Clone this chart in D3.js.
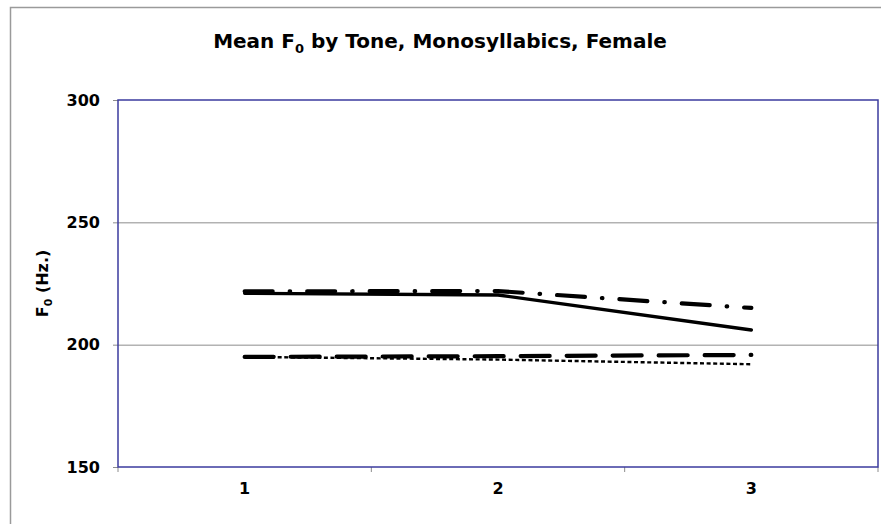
<!DOCTYPE html>
<html>
<head>
<meta charset="utf-8">
<script src="https://cdn.jsdelivr.net/npm/d3@7"></script>
<style>
  html, body { margin: 0; padding: 0; background: #fff; }
  svg { display: block; font-family: "DejaVu Sans", Verdana, sans-serif; }
</style>
</head>
<body>
<svg id="chart" width="881" height="524"></svg>
<script>
// Tones on the x axis
const tones = ["1", "2", "3"];
// Mean F0 (Hz) per tone for each series
const seriesDashDot = [221.8, 221.9, 215.0];
const seriesSolid = [221.0, 220.3, 206.0];
const seriesLongDash = [195.0, 195.3, 195.8];
const seriesShortDash = [195.0, 193.9, 192.0];
// Y axis ticks
const yTicks = [150, 200, 250, 300];

const svg = d3.select("#chart");
const W = 881, H = 524;
const plot = { left: 118, right: 878, top: 100, bottom: 467 };

// Outer chart frame (cut off at right and bottom)
svg.append("path")
  .attr("d", `M10.5,${H + 2} V7.5 H${W + 2}`)
  .attr("fill", "none")
  .attr("stroke", "#9a9a9a")
  .attr("stroke-width", 1.5);

const x = d3.scaleBand().domain(tones).range([plot.left, plot.right]);
const y = d3.scaleLinear().domain([150, 300]).range([plot.bottom, plot.top]);

// Horizontal gridlines
svg.append("g")
  .selectAll("line")
  .data(yTicks.filter(t => t > 150 && t < 300))
  .join("line")
  .attr("x1", plot.left).attr("x2", plot.right)
  .attr("y1", d => y(d) + 0.5).attr("y2", d => y(d) + 0.5)
  .attr("stroke", "#8c8c8c")
  .attr("stroke-width", 1);

// Y axis
const yAxis = svg.append("g")
  .attr("transform", `translate(${plot.left},0)`)
  .call(d3.axisLeft(y).tickValues(yTicks).tickSize(5).tickPadding(13).tickFormat(d3.format("d")));
yAxis.select(".domain").remove();
yAxis.selectAll(".tick line").attr("stroke", "#8c8c8c");
yAxis.selectAll(".tick text")
  .attr("font-family", "DejaVu Sans, Verdana, sans-serif")
  .attr("font-size", 16)
  .attr("font-weight", "bold")
  .attr("fill", "#000");

// X axis: ticks at band boundaries, labels at band centers
const xAxis = svg.append("g")
  .attr("transform", `translate(0,${plot.bottom})`)
  .call(d3.axisBottom(x).tickSize(0).tickPadding(16));
xAxis.select(".domain").remove();
xAxis.selectAll(".tick text")
  .attr("font-family", "DejaVu Sans, Verdana, sans-serif")
  .attr("font-size", 16)
  .attr("font-weight", "bold")
  .attr("fill", "#000");
const bounds = tones.map(t => x(t)).concat([x(tones[tones.length - 1]) + x.bandwidth()]);
svg.append("g")
  .selectAll("line")
  .data(bounds)
  .join("line")
  .attr("x1", d => d).attr("x2", d => d)
  .attr("y1", plot.bottom).attr("y2", plot.bottom + 5)
  .attr("stroke", "#8c8c8c");

// Plot area border
svg.append("rect")
  .attr("x", plot.left).attr("y", plot.top)
  .attr("width", plot.right - plot.left)
  .attr("height", plot.bottom - plot.top)
  .attr("fill", "none")
  .attr("stroke", "#3b3b9e")
  .attr("stroke-width", 1.5);

// Series lines
const line = d3.line()
  .x((d, i) => x(tones[i]) + x.bandwidth() / 2)
  .y(d => y(d));

const series = [
  { values: seriesShortDash, width: 2.4, dash: "4,2.6", cap: "butt" },
  { values: seriesLongDash, width: 4.2, dash: "29,17", cap: "round" },
  { values: seriesSolid, width: 3.4, dash: null, cap: "round" },
  { values: seriesDashDot, width: 4.2, dash: "28,17,0.5,17", cap: "round" }
];

svg.append("g")
  .selectAll("path")
  .data(series)
  .join("path")
  .attr("d", d => line(d.values))
  .attr("fill", "none")
  .attr("stroke", "#000")
  .attr("stroke-width", d => d.width)
  .attr("stroke-dasharray", d => d.dash)
  .attr("stroke-linecap", d => d.cap)
  .attr("stroke-linejoin", "round");

// Title
const title = svg.append("text")
  .attr("x", 440).attr("y", 48)
  .attr("text-anchor", "middle")
  .attr("font-size", 20)
  .attr("font-weight", "bold")
  .attr("fill", "#000");
title.append("tspan").text("Mean F");
title.append("tspan").attr("font-size", 13).attr("dy", 5).text("0");
title.append("tspan").attr("dy", -5).text(" by Tone, Monosyllabics, Female");

// Y axis label
const yLabel = svg.append("text")
  .attr("transform", `translate(48,${(plot.top + plot.bottom) / 2}) rotate(-90)`)
  .attr("text-anchor", "middle")
  .attr("font-size", 16)
  .attr("font-weight", "bold")
  .attr("fill", "#000");
yLabel.append("tspan").text("F");
yLabel.append("tspan").attr("font-size", 11).attr("dy", 4).text("0");
yLabel.append("tspan").attr("dy", -4).text(" (Hz.)");
</script>
</body>
</html>
